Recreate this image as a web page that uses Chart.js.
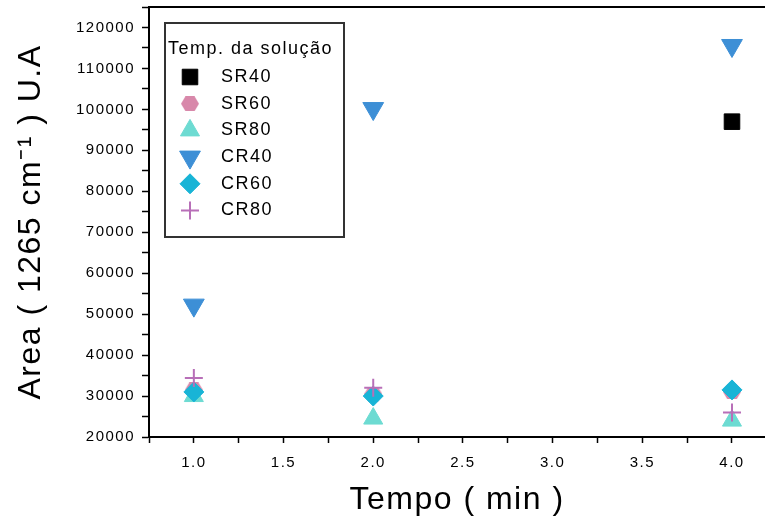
<!DOCTYPE html>
<html><head><meta charset="utf-8">
<script src="https://cdn.jsdelivr.net/npm/chart.js@4.4.1/dist/chart.umd.min.js"></script>
<style>html,body{margin:0;padding:0;background:#fff}#wrap{width:765px;height:520px}</style>
</head><body><div id="wrap"><canvas id="c" width="765" height="520"></canvas></div>
<script>
// ---- data ----
const tempos = [1.0, 2.0, 4.0];
const seriesNames = ['SR40', 'SR60', 'SR80', 'CR40', 'CR60', 'CR80'];
const sr40 = [null, null, 97000];
const sr60 = [31500, 30500, 31000];
const sr80 = [30000, 24500, 24000];
const cr40 = [52200, 100200, 115600];
const cr60 = [31000, 30000, 31500];
const cr80 = [34400, 32000, 26000];
const xTickLabels = [1.0, 1.5, 2.0, 2.5, 3.0, 3.5, 4.0];
const yTickLabels = [20000, 30000, 40000, 50000, 60000, 70000, 80000, 90000, 100000, 110000, 120000];
const legendTitle = 'Temp. da solução';
const xTitle = 'Tempo ( min )';
const yTitle = 'Area ( 1265 cm\u207B\u00B9 ) U.A';

// ---- styles ----
function hexagon(color) {
  const c = document.createElement('canvas');
  c.width = 18; c.height = 15;
  const g = c.getContext('2d');
  g.fillStyle = color;
  g.beginPath();
  g.moveTo(0, 7.5); g.lineTo(4.5, 0); g.lineTo(13.5, 0); g.lineTo(18, 7.5);
  g.lineTo(13.5, 15); g.lineTo(4.5, 15); g.closePath(); g.fill();
  return c;
}
const styles = [
  {color: '#000000', pointStyle: 'rect', radius: 11, rotation: 0, bw: 1},
  {color: '#d888aa', pointStyle: hexagon('#d888aa'), radius: 9, rotation: 0, bw: 1},
  {color: '#6ddbd2', pointStyle: 'triangle', radius: 11, rotation: 0, bw: 1},
  {color: '#3d8fd6', pointStyle: 'triangle', radius: 12, rotation: 180, bw: 1},
  {color: '#18b4d6', pointStyle: 'rectRot', radius: 10, rotation: 0, bw: 1},
  {color: '#b86fb8', pointStyle: 'cross', radius: 9, rotation: 0, bw: 2}
];
const allSeries = [sr40, sr60, sr80, cr40, cr60, cr80];

const datasets = allSeries.map((vals, i) => ({
  label: seriesNames[i],
  data: tempos.map((t, j) => ({x: t, y: vals[j]})).filter(p => p.y !== null),
  pointStyle: styles[i].pointStyle,
  pointRadius: styles[i].radius,
  pointHoverRadius: styles[i].radius,
  pointRotation: styles[i].rotation,
  pointBackgroundColor: styles[i].color,
  pointBorderColor: styles[i].color,
  pointBorderWidth: styles[i].bw,
  showLine: false,
  order: allSeries.length - i
}));

const FONT = '"Liberation Sans", Arial, sans-serif';
const SPACING = '1.5px';

const spacing = {
  id: 'spacing',
  beforeUpdate(chart) { chart.ctx.letterSpacing = SPACING; },
  beforeDraw(chart) { chart.ctx.letterSpacing = SPACING; }
};

const frame = {
  id: 'frame',
  afterDraw(chart) {
    const {ctx, chartArea: a} = chart;
    ctx.save();
    ctx.strokeStyle = '#000'; ctx.lineWidth = 2;
    ctx.beginPath(); ctx.moveTo(a.left - 1, a.top); ctx.lineTo(a.right, a.top); ctx.stroke();
    ctx.restore();
  }
};

const boxLegend = {
  id: 'boxLegend',
  afterDraw(chart) {
    const {ctx, chartArea: a} = chart;
    const L = a.left + 16, T = a.top + 16, W = 179, H = 214;
    ctx.save();
    ctx.fillStyle = '#fff';
    ctx.fillRect(L, T, W, H);
    ctx.strokeStyle = '#333'; ctx.lineWidth = 2;
    ctx.strokeRect(L, T, W, H);
    ctx.fillStyle = '#000';
    ctx.font = '18px ' + FONT;
    ctx.textBaseline = 'middle';
    ctx.textAlign = 'left';
    ctx.fillText(legendTitle, L + 3, T + 26);
    chart.data.datasets.forEach((ds, i) => {
      const y = T + 54 + i * 26.7;
      const x = L + 25;
      ctx.fillStyle = ds.pointBackgroundColor;
      ctx.strokeStyle = ds.pointBorderColor;
      ctx.lineWidth = ds.pointBorderWidth;
      Chart.helpers.drawPoint(ctx, {pointStyle: ds.pointStyle, rotation: ds.pointRotation,
        radius: ds.pointRadius, borderWidth: ds.pointBorderWidth}, x, y);
      ctx.fillStyle = '#000';
      ctx.fillText(ds.label, L + 56, y);
    });
    ctx.restore();
  }
};

new Chart(document.getElementById('c'), {
  type: 'scatter',
  data: {datasets},
  plugins: [spacing, frame, boxLegend],
  options: {
    responsive: false,
    devicePixelRatio: 1,
    animation: false,
    layout: {autoPadding: false, padding: {top: 7, right: 0, bottom: 0, left: 0}},
    plugins: {legend: {display: false}, tooltip: {enabled: false}},
    scales: {
      x: {
        type: 'linear', min: 0.75, max: 4.184,
        afterFit(s) { s.height = 83; s.paddingLeft = 0; s.paddingRight = 0; },
        ticks: {
          stepSize: 0.25, autoSkip: false, maxRotation: 0, includeBounds: false,
          color: '#000', font: {family: FONT, size: 15}, padding: 11,
          callback: v => xTickLabels.some(t => Math.abs(t - v) < 1e-6) ? v.toFixed(1) : ''
        },
        grid: {display: true, drawOnChartArea: false, drawTicks: true, tickLength: 6, tickColor: '#000', tickWidth: 1.5},
        border: {display: true, color: '#000', width: 2},
        title: {display: true, text: xTitle, color: '#000', font: {family: FONT, size: 32}, padding: {top: 4, bottom: 1}}
      },
      y: {
        type: 'linear', min: 20000, max: 125000,
        afterFit(s) { s.width = 149; s.paddingTop = 0; s.paddingBottom = 0; },
        ticks: {
          stepSize: 5000, autoSkip: false, includeBounds: false,
          color: '#000', font: {family: FONT, size: 15}, padding: 7,
          callback: v => yTickLabels.includes(v) ? String(v) : ''
        },
        grid: {display: true, drawOnChartArea: false, drawTicks: true, tickLength: 7, tickColor: '#000', tickWidth: 1.5},
        border: {display: true, color: '#000', width: 2},
        title: {display: true, text: yTitle, color: '#000', font: {family: FONT, size: 32}, padding: {top: 12, bottom: 4}}
      }
    }
  }
});
</script>
</body></html>
